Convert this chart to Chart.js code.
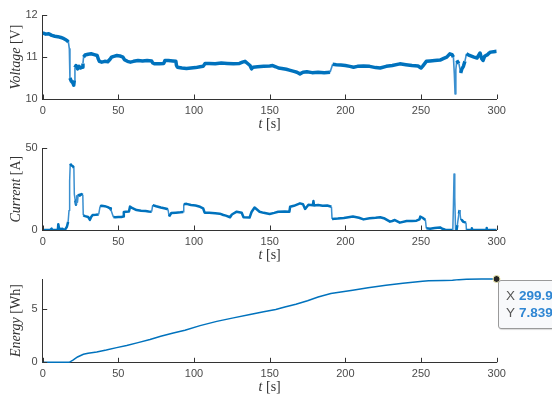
<!DOCTYPE html>
<html>
<head>
<meta charset="utf-8">
<script src="https://cdn.jsdelivr.net/npm/chart.js@4.4.0/dist/chart.umd.min.js"></script>
<style>
  html, body { margin: 0; padding: 0; background: #fff; overflow: hidden; }
  #wrap { position: relative; width: 552px; height: 394px; overflow: hidden; }
  .panel { position: absolute; left: 0; }
  #tip {
    position: absolute; left: 498px; top: 280px; width: 90px; height: 47px;
    background: #f8f9fb; border: 1px solid #9a9a9a; border-radius: 3px;
    font-family: "Liberation Sans", Arial, sans-serif; font-size: 13.5px; line-height: 16.5px;
    box-shadow: 1px 1px 1px rgba(0,0,0,0.15);
  }
  #tip .row { position: absolute; left: 7px; white-space: nowrap; color: #555; }
  #tip b { color: #2f86d3; margin-left: 4px; }
</style>
</head>
<body>
<div id="wrap">
  <canvas id="voltChart" class="panel" width="552" height="135" style="top:0px"></canvas>
  <canvas id="currChart" class="panel" width="552" height="130" style="top:133px"></canvas>
  <canvas id="energyChart" class="panel" width="552" height="130" style="top:264px"></canvas>
  <div id="tip">
    <div class="row" style="top:7px">X<b id="tipX"></b></div>
    <div class="row" style="top:24px">Y<b id="tipY"></b></div>
  </div>
</div>
<script>
// ---- data ----
const xTicks = [0, 50, 100, 150, 200, 250, 300];
const voltTicks = [10, 11, 12];
const currTicks = [0, 50];
const energyTicks = [0, 5];

// voltage [V] vs time [s]
const tV = [0, 2, 4, 6, 8, 10, 12, 14, 15, 16, 17, 17.6, 18, 19, 20, 20.5, 20.9, 21.3, 22, 23, 24, 25, 26, 26.6, 27, 28, 30, 32, 34, 36, 36.8, 37.5, 39, 41, 43, 44.5, 45.5, 47, 49, 51, 53, 54, 56, 58, 60, 63, 66, 69, 72, 72.7, 74, 77, 80, 80.8, 83, 86, 88, 88.4, 89, 92, 95, 98, 101, 104, 106, 107.3, 110, 114, 118, 122, 126, 130, 132, 133.7, 135, 137, 138, 139, 142, 146, 150, 152, 154, 155.8, 158, 161, 163, 166, 168, 170, 172, 174.6, 178, 182, 186, 189.9, 191.6, 194, 197, 200, 203, 205.4, 208, 212, 216, 220, 223, 227, 231, 236, 240, 244, 248, 250, 251, 253.5, 256, 259, 262.6, 265, 267, 269, 270.5, 271.4, 272, 272.5, 273, 273.6, 275, 276.2, 277, 278, 279, 280, 282, 285, 287, 289, 290, 291, 292, 294, 295, 296, 298, 300];
const vV = [11.58, 11.55, 11.56, 11.52, 11.5, 11.49, 11.47, 11.44, 11.42, 11.4, 11.36, 11.2, 10.5, 10.42, 10.38, 10.33, 10.45, 10.75, 10.8, 10.72, 10.78, 10.74, 10.76, 10.85, 11.0, 11.05, 11.07, 11.08, 11.06, 11.04, 10.95, 10.9, 10.88, 10.9, 10.89, 10.95, 11.0, 11.02, 11.04, 11.03, 11.0, 10.94, 10.9, 10.88, 10.9, 10.92, 10.91, 10.92, 10.91, 10.86, 10.84, 10.84, 10.85, 10.92, 10.92, 10.91, 10.9, 10.8, 10.76, 10.74, 10.73, 10.74, 10.75, 10.77, 10.78, 10.85, 10.85, 10.84, 10.86, 10.85, 10.84, 10.85, 10.88, 10.9, 10.86, 10.8, 10.72, 10.76, 10.77, 10.78, 10.79, 10.8, 10.77, 10.74, 10.73, 10.71, 10.69, 10.66, 10.64, 10.6, 10.64, 10.65, 10.63, 10.64, 10.63, 10.64, 10.83, 10.82, 10.81, 10.8, 10.78, 10.76, 10.78, 10.79, 10.78, 10.75, 10.74, 10.78, 10.8, 10.84, 10.82, 10.8, 10.79, 10.74, 10.78, 10.9, 10.91, 10.92, 10.93, 10.97, 11.0, 11.08, 11.06, 11.0, 10.6, 10.12, 10.7, 10.92, 10.85, 10.62, 10.72, 10.78, 10.9, 11.08, 11.04, 11.0, 10.98, 11.1, 10.97, 10.92, 11.02, 11.06, 11.1, 11.12, 11.13, 11.14];

// current [A] vs time [s]
const tI = [0, 5, 5.9, 6.3, 10, 10.3, 10.8, 12, 13, 14, 15, 16, 16.8, 17.4, 17.8, 18.2, 19, 20, 20.6, 20.9, 21.5, 22, 22.5, 23, 23.5, 24.5, 25.5, 26.5, 26.8, 28, 30, 31.2, 32, 33, 35, 37, 37.9, 39, 41, 43, 44.5, 45, 46.7, 48, 50, 52, 53.3, 53.6, 55, 57, 57.7, 59, 62, 65, 68, 70, 72, 72.7, 75, 78, 81, 82.8, 83.5, 85, 88, 91, 92.9, 93.2, 95, 98, 101, 104, 106, 107, 110, 114, 117, 119.4, 121, 123.8, 125, 128.2, 131.5, 132.7, 136.7, 138, 140, 141, 143.3, 146, 150, 153, 155.6, 160, 163, 163.5, 166, 170, 172, 173.4, 175.6, 178.5, 178.9, 179.3, 182, 185, 188, 190.8, 191.2, 195, 199, 205, 209, 212, 216, 220, 223, 226, 229.5, 231, 232.7, 236, 240.5, 244, 247, 249, 249.5, 251, 252.9, 253.5, 256, 259, 262.6, 264, 266, 267, 271, 271.4, 271.8, 272.3, 272.8, 273.5, 274, 275, 275.5, 276.3, 277, 278, 279.7, 280, 283.4, 283.6, 283.9, 293.2, 293.3, 293.5, 300];
const iI = [0, 0, 0.8, 0, 0, 3.5, 1, 0.5, 0.8, 0, 0.5, 2, 5, 12, 30, 40.5, 39.5, 39, 38, 22, 18, 15.5, 21, 17, 22, 21, 22, 21.5, 9, 8.5, 8, 6.2, 8, 9.2, 9.3, 9.5, 14.5, 14.8, 14.6, 14, 13.3, 12.5, 8, 7.8, 7.9, 8, 8.2, 11, 11.2, 11.3, 14.3, 13.5, 12.2, 11.8, 11.6, 11.3, 11.2, 15.2, 14.5, 13.8, 13.2, 12.7, 8.3, 10.4, 10.6, 10.8, 11, 15.8, 16, 15.3, 15, 14.2, 13.3, 10.6, 10.5, 10.3, 10, 9.2, 8.8, 7.8, 9.5, 11.2, 10.6, 7.8, 7.6, 11, 13.8, 13, 11.2, 10.5, 9.8, 10.5, 11.2, 11.3, 11.2, 14.2, 14.8, 16.3, 15.8, 12.9, 15.5, 15.2, 17.7, 15, 15.3, 14.8, 15, 14.2, 6.8, 7, 7.3, 8.2, 7.5, 6.5, 7.2, 7.5, 7.8, 7, 5.1, 5.5, 6.1, 4.5, 5.5, 5.5, 5.7, 6.5, 8.2, 7.5, 6.1, 1, 0.8, 1.2, 1.6, 0.8, 0.2, 0, 0, 15, 34.3, 20, 0, 0, 3, 10, 12.2, 6, 6.1, 5, 4.5, 0, 0, 1, 0, 0, 1.2, 0, 0];

// energy [Wh] vs time [s]
const tE = [0, 17.5, 20, 23, 26.9, 30, 35.7, 42, 48.9, 55.5, 63, 70.9, 78, 86.3, 94, 104, 115, 126, 137, 146, 154, 160, 167.3, 175, 182, 190.4, 197, 204.8, 215, 226.8, 238, 251, 255, 265, 270.8, 275, 280, 290, 299.9];
const eE = [0, 0, 0.2, 0.5, 0.75, 0.85, 0.98, 1.15, 1.38, 1.58, 1.85, 2.15, 2.45, 2.75, 3.02, 3.45, 3.85, 4.18, 4.5, 4.75, 4.97, 5.2, 5.47, 5.8, 6.15, 6.47, 6.62, 6.78, 7.02, 7.25, 7.45, 7.63, 7.68, 7.7, 7.72, 7.78, 7.82, 7.83, 7.839];

// ---- look ----
const LINE = "#0072BD";
const LINE_THIN = "#3a8fd0";
const AXIS = "#333333";
const TICKTXT = "#4a4a4a";
const PLOT_LEFT = 42.7, PLOT_RIGHT = 496.7;

function pairs(xs, ys) {
  return xs.map((x, i) => ({ x: x, y: ys[i] }));
}

// fast jumps in the noisy signals look thin & light in the original
function steep(ctx) {
  const dx = Math.abs(ctx.p1.x - ctx.p0.x);
  const dy = Math.abs(ctx.p1.y - ctx.p0.y);
  return dy > 6 && dy > 2.5 * dx;
}

function drawMixed(ctx, parts, cx, cy) {
  const fonts = parts.map(p => (p.italic ? "italic " : "") + "14px 'Liberation Serif', serif");
  let total = 0;
  const widths = parts.map((p, i) => { ctx.font = fonts[i]; const w = ctx.measureText(p.text).width; total += w; return w; });
  let x = cx - total / 2;
  ctx.textAlign = "left";
  ctx.textBaseline = "middle";
  parts.forEach((p, i) => {
    ctx.font = fonts[i];
    ctx.fillText(p.text, x, cy);
    x += widths[i];
  });
}

// axis titles (italic math word + roman unit) and inward tick marks, MATLAB style
const matlabAxes = {
  id: "matlabAxes",
  afterDraw(chart) {
    const opts = chart.options.plugins.matlabAxes;
    const ctx = chart.ctx;
    const area = chart.chartArea;
    const xs = chart.scales.x, ys = chart.scales.y;
    ctx.save();
    ctx.strokeStyle = AXIS;
    ctx.lineWidth = 1;
    ctx.beginPath();
    xs.ticks.forEach(t => {
      const px = Math.round(xs.getPixelForValue(t.value)) + 0.5;
      ctx.moveTo(px, area.bottom);
      ctx.lineTo(px, area.bottom - 4.5);
    });
    ys.ticks.forEach(t => {
      const py = Math.round(ys.getPixelForValue(t.value)) + 0.5;
      ctx.moveTo(area.left, py);
      ctx.lineTo(area.left + 4.5, py);
    });
    ctx.stroke();

    ctx.fillStyle = "#333";
    drawMixed(ctx, [{ text: "t", italic: true }, { text: " [s]" }], (area.left + area.right) / 2, area.bottom + 25.5);
    ctx.translate(16, (area.top + area.bottom) / 2);
    ctx.rotate(-Math.PI / 2);
    drawMixed(ctx, opts.yParts, 0, 0);
    ctx.restore();
  }
};

function makeChart(id, data, cfg) {
  const canvas = document.getElementById(id);
  const H = canvas.height;
  return new Chart(canvas.getContext("2d"), {
    type: "line",
    data: { datasets: [data] },
    options: {
      responsive: false,
      animation: false,
      parsing: false,
      normalized: true,
      layout: { padding: { left: 0, right: 552 - PLOT_RIGHT, top: cfg.plotTop, bottom: 0 } },
      plugins: {
        legend: { display: false },
        tooltip: { enabled: false },
        matlabAxes: { yParts: cfg.yParts }
      },
      scales: {
        x: {
          type: "linear", min: 0, max: 300,
          afterBuildTicks: s => { s.ticks = xTicks.map(v => ({ value: v })); },
          afterFit: s => { s.height = H - cfg.plotBottom; },
          grid: { display: false, drawTicks: false },
          border: { display: true, color: AXIS, width: 1 },
          ticks: { padding: 5, maxRotation: 0, color: TICKTXT, font: { family: "'Liberation Sans', Arial, sans-serif", size: 11 } }
        },
        y: {
          type: "linear", min: cfg.min, max: cfg.max,
          afterBuildTicks: s => { s.ticks = cfg.ticks.map(v => ({ value: v })); },
          afterFit: s => { s.width = PLOT_LEFT; },
          grid: { display: false, drawTicks: false },
          border: { display: true, color: AXIS, width: 1 },
          ticks: { padding: 5, color: TICKTXT, font: { family: "'Liberation Sans', Arial, sans-serif", size: 11 } }
        }
      }
    },
    plugins: [matlabAxes]
  });
}

makeChart("voltChart", {
  data: pairs(tV, vV), borderColor: LINE, borderWidth: 3.5, pointRadius: 0, tension: 0, fill: false,
  borderJoinStyle: "round",
  segment: {
    borderWidth: c => steep(c) ? 1.6 : undefined,
    borderColor: c => steep(c) ? LINE_THIN : undefined
  }
}, { plotTop: 15.3, plotBottom: 99, min: 10, max: 12, ticks: voltTicks,
     yParts: [{ text: "Voltage", italic: true }, { text: " [V]" }] });

makeChart("currChart", {
  data: pairs(tI, iI), borderColor: LINE, borderWidth: 2.5, pointRadius: 0, tension: 0, fill: false,
  borderJoinStyle: "round",
  segment: {
    borderWidth: c => steep(c) ? 1.5 : undefined,
    borderColor: c => steep(c) ? LINE_THIN : undefined
  }
}, { plotTop: 15.3, plotBottom: 97, min: 0, max: 50, ticks: currTicks,
     yParts: [{ text: "Current", italic: true }, { text: " [A]" }] });

const lastE = eE.length - 1;
makeChart("energyChart", {
  data: pairs(tE, eE), borderColor: LINE, borderWidth: 1.5, tension: 0, fill: false, clip: false,
  pointRadius: ctx => ctx.dataIndex === lastE ? 3.5 : 0,
  pointBackgroundColor: "#262626", pointBorderColor: "#f3efb0", pointBorderWidth: 1
}, { plotTop: 15, plotBottom: 98.3, min: 0, max: Math.max(...eE), ticks: energyTicks,
     yParts: [{ text: "Energy", italic: true }, { text: " [Wh]" }] });

// datatip text from the last energy sample
document.getElementById("tipX").textContent = String(tE[lastE]);
document.getElementById("tipY").textContent = String(eE[lastE]);
</script>
</body>
</html>
